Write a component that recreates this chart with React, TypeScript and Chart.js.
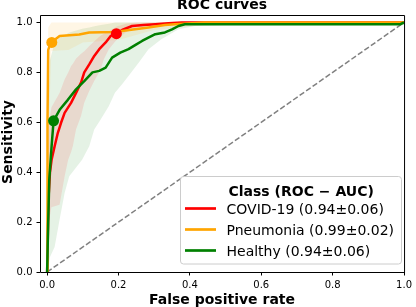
import React, { useEffect, useRef } from "react";
import { Chart, registerables } from "chart.js";

Chart.register(...registerables);

const xTicks = [0, 0.2, 0.4, 0.6, 0.8, 1.0];
const yTicks = [0, 0.2, 0.4, 0.6, 0.8, 1.0];

const chartTitle = "ROC curves";
const xLabel = "False positive rate";
const yLabel = "Sensitivity";
const legendTitle = "Class (ROC \u2212 AUC)";
const classNames = ["COVID-19", "Pneumonia", "Healthy"];
const aucTexts = ["0.94\u00b10.06", "0.99\u00b10.02", "0.94\u00b10.06"];
const lineColors = ["#ff0000", "#ffa500", "#008000"];
const bandColors = ["rgba(255,0,0,0.1)", "rgba(255,165,0,0.1)", "rgba(0,128,0,0.1)"];

// mean ROC curves
const covidFpr = [0, 0.004, 0.008, 0.0125, 0.021, 0.03, 0.039, 0.049, 0.067, 0.081, 0.095, 0.104, 0.118, 0.132, 0.146, 0.164, 0.178, 0.194, 0.21, 0.238, 0.27, 0.303, 0.34, 0.377, 1];
const covidTpr = [0, 0.3, 0.4, 0.45, 0.504, 0.558, 0.598, 0.638, 0.678, 0.718, 0.759, 0.8, 0.832, 0.866, 0.893, 0.92, 0.946, 0.955, 0.97, 0.986, 0.99, 0.993, 0.997, 1, 1];

const pneuFpr = [0, 0.001, 0.003, 0.008, 0.013, 0.025, 0.035, 0.09, 0.118, 0.19, 0.23, 0.284, 0.33, 0.358, 0.44, 1];
const pneuTpr = [0, 0.6, 0.89, 0.91, 0.92, 0.935, 0.946, 0.952, 0.96, 0.962, 0.97, 0.98, 0.99, 0.993, 1, 1];

const healthyFpr = [0, 0.003, 0.006, 0.0125, 0.018, 0.035, 0.058, 0.081, 0.104, 0.127, 0.146, 0.164, 0.182, 0.205, 0.228, 0.25, 0.266, 0.285, 0.303, 0.33, 0.35, 0.368, 0.386, 0.99, 1];
const healthyTpr = [0, 0.2, 0.37, 0.504, 0.606, 0.65, 0.69, 0.732, 0.765, 0.8, 0.806, 0.819, 0.859, 0.879, 0.893, 0.912, 0.926, 0.94, 0.953, 0.96, 0.972, 0.986, 0.993, 0.993, 1];

// operating points
const markerFpr = [0.194, 0.013, 0.018];
const markerTpr = [0.955, 0.92, 0.606];

// std bands
const covidBandFpr = [0, 0.005, 0.012, 0.035, 0.049, 0.059, 0.067, 0.072, 0.081, 0.095, 0.104, 0.118, 0.132, 0.15, 0.159, 0.173, 0.196, 0.22, 0.25, 0.3, 0.4, 1];
const covidBandLo = [0, 0.2, 0.26, 0.27, 0.383, 0.45, 0.48, 0.504, 0.571, 0.625, 0.678, 0.725, 0.765, 0.812, 0.853, 0.893, 0.933, 0.96, 0.98, 0.99, 1, 1];
const covidBandHi = [0, 0.6, 0.66, 0.718, 0.772, 0.8, 0.826, 0.835, 0.856, 0.875, 0.885, 0.906, 0.925, 0.948, 0.955, 0.965, 0.985, 0.995, 1, 1, 1, 1];

const pneuBandFpr = [0, 0.003, 0.012, 0.06, 0.1, 0.2, 0.25, 0.3, 0.44, 1];
const pneuBandLo = [0, 0.5, 0.886, 0.89, 0.92, 0.93, 0.95, 0.97, 0.99, 1];
const pneuBandHi = [0, 0.98, 1, 1, 1, 1, 1, 1, 1, 1];

const healthyBandFpr = [0, 0.004, 0.008, 0.021, 0.035, 0.049, 0.062, 0.098, 0.118, 0.132, 0.15, 0.173, 0.19, 0.21, 0.228, 0.257, 0.284, 0.32, 0.368, 0.414, 0.5, 1];
const healthyBandLo = [0, 0.03, 0.06, 0.1, 0.21, 0.317, 0.384, 0.45, 0.504, 0.571, 0.611, 0.665, 0.718, 0.752, 0.786, 0.84, 0.893, 0.933, 0.973, 0.986, 0.99, 0.99];
const healthyBandHi = [0, 0.7, 0.85, 0.92, 0.94, 0.95, 0.96, 0.975, 0.98, 0.985, 0.99, 0.995, 1, 1, 1, 1, 1, 1, 1, 1, 1, 1];

const chanceX = [0, 1];
const chanceY = [0, 1];

const pts = (xs: number[], ys: number[]) => xs.map((x, i) => ({ x, y: ys[i] }));

const FONT = '"DejaVu Sans", sans-serif';

const decorPlugin = {
  id: "decor",
  afterDraw(chart: any) {
    const { ctx, chartArea: a } = chart;
    ctx.save();
    // frame (all four spines)
    ctx.strokeStyle = "#000";
    ctx.lineWidth = 1;
    ctx.beginPath();
    ctx.rect(a.left + 0.5, a.top + 0.5, a.right - a.left, a.bottom - a.top);
    ctx.stroke();

    ctx.fillStyle = "#000";
    // title
    ctx.font = `bold 14px ${FONT}`;
    ctx.textAlign = "center";
    ctx.textBaseline = "alphabetic";
    const cx = (a.left + a.right) / 2;
    ctx.fillText(chartTitle, cx, 8.5);
    // x label
    ctx.fillText(xLabel, cx, 303.5);
    // y label
    ctx.save();
    ctx.translate(12, 142);
    ctx.rotate(-Math.PI / 2);
    ctx.fillText(yLabel, 0, 0);
    ctx.restore();

    // legend
    const bx = 180.5, by = 176.5, bw = 221, bh = 87.5;
    ctx.beginPath();
    (ctx as any).roundRect(bx, by, bw, bh, 3);
    ctx.fillStyle = "rgba(255,255,255,0.8)";
    ctx.fill();
    ctx.strokeStyle = "#cccccc";
    ctx.lineWidth = 1;
    ctx.stroke();

    ctx.fillStyle = "#000";
    ctx.textAlign = "left";
    ctx.font = `bold 14px ${FONT}`;
    ctx.fillText(legendTitle, 228.5, 196);
    ctx.font = `14px ${FONT}`;
    for (let i = 0; i < classNames.length; i++) {
      const base = 213.7 + i * 21;
      ctx.strokeStyle = lineColors[i];
      ctx.lineWidth = 2.7;
      ctx.beginPath();
      ctx.moveTo(185, base - 5.2);
      ctx.lineTo(216, base - 5.2);
      ctx.stroke();
      ctx.fillStyle = "#000";
      ctx.fillText(`${classNames[i]} (${aucTexts[i]})`, 226.5, base);
    }
    ctx.restore();
  },
};

export default function App() {
  const ref = useRef<HTMLCanvasElement | null>(null);

  useEffect(() => {
    if (!ref.current) return;
    const band = (xs: number[], hi: number[], lo: number[], color: string, order: number) => [
      {
        data: pts(xs, hi),
        borderWidth: 0,
        pointRadius: 0,
        fill: "+1",
        backgroundColor: color,
        borderColor: "rgba(0,0,0,0)",
        order,
      },
      {
        data: pts(xs, lo),
        borderWidth: 0,
        pointRadius: 0,
        fill: false,
        borderColor: "rgba(0,0,0,0)",
        order,
      },
    ];
    const line = (xs: number[], ys: number[], color: string, order: number) => ({
      data: pts(xs, ys),
      borderColor: color,
      borderWidth: 2.5,
      pointRadius: 0,
      fill: false,
      tension: 0,
      borderJoinStyle: "round",
      order,
    });
    const marker = (i: number, order: number) => ({
      data: [{ x: markerFpr[i], y: markerTpr[i] }],
      showLine: false,
      pointRadius: 5.5,
      pointBorderWidth: 0,
      pointBackgroundColor: lineColors[i],
      borderColor: lineColors[i],
      order,
    });

    const datasets: any[] = [
      ...band(healthyBandFpr, healthyBandHi, healthyBandLo, bandColors[2], 12),
      ...band(covidBandFpr, covidBandHi, covidBandLo, bandColors[0], 11),
      ...band(pneuBandFpr, pneuBandHi, pneuBandLo, bandColors[1], 10),
      {
        data: pts(chanceX, chanceY),
        borderColor: "#808080",
        borderWidth: 1.5,
        borderDash: [5.5, 2.4],
        pointRadius: 0,
        fill: false,
        order: 9,
      },
      line(covidFpr, covidTpr, lineColors[0], 8),
      line(pneuFpr, pneuTpr, lineColors[1], 7),
      line(healthyFpr, healthyTpr, lineColors[2], 6),
      marker(0, 3),
      marker(1, 4),
      marker(2, 2),
    ];

    const tickFont = { family: FONT, size: 10 };
    const chart = new Chart(ref.current, {
      type: "line",
      data: { datasets },
      options: {
        responsive: false,
        animation: false,
        devicePixelRatio: 1,
        events: [],
        layout: { padding: { top: 15, right: 8, left: 0, bottom: 0 } },
        plugins: {
          legend: { display: false },
          title: { display: false },
          tooltip: { enabled: false },
        },
        scales: {
          x: {
            type: "linear",
            min: -0.02,
            max: 1.0,
            afterFit: (s: any) => {
              s.height = 35;
            },
            afterBuildTicks: (s: any) => {
              s.ticks = xTicks.map((v) => ({ value: v }));
            },
            ticks: {
              callback: (v: any) => Number(v).toFixed(1),
              font: tickFont,
              color: "#000",
              padding: 4,
              maxRotation: 0,
              autoSkip: false,
            },
            grid: { display: true, drawOnChartArea: false, drawTicks: true, tickLength: 3.5, color: "#000", lineWidth: 1 },
            border: { display: false },
          },
          y: {
            type: "linear",
            min: 0,
            max: 1.03,
            afterFit: (s: any) => {
              s.width = 40;
            },
            afterBuildTicks: (s: any) => {
              s.ticks = yTicks.map((v) => ({ value: v }));
            },
            ticks: {
              callback: (v: any) => Number(v).toFixed(1),
              font: tickFont,
              color: "#000",
              padding: 4,
              autoSkip: false,
            },
            grid: { display: true, drawOnChartArea: false, drawTicks: true, tickLength: 3.5, color: "#000", lineWidth: 1 },
            border: { display: false },
          },
        },
      } as any,
      plugins: [decorPlugin as any],
    });
    return () => chart.destroy();
  }, []);

  return (
    <div style={{ position: "fixed", left: 0, top: 0, width: 416, height: 307, background: "#fff" }}>
      <canvas ref={ref} width={416} height={307} style={{ width: 416, height: 307, display: "block" }} />
    </div>
  );
}
